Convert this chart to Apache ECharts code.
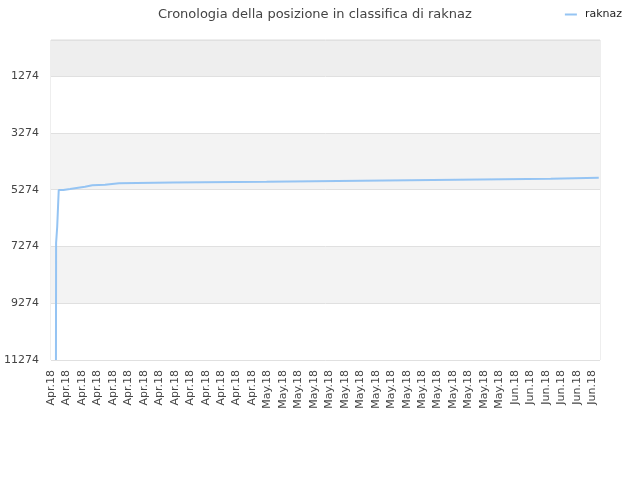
<!DOCTYPE html>
<html>
<head>
<meta charset="utf-8">
<script src="https://cdn.jsdelivr.net/npm/echarts@6/dist/echarts.min.js"></script>
<style>html,body{margin:0;padding:0;background:#fff}#c{width:640px;height:480px}</style>
</head>
<body>
<div id="c"></div>
<script>
var titleText = 'Cronologia della posizione in classifica di raknaz';
var seriesName = 'raknaz';
var xLabels = [
  'Apr.18','Apr.18','Apr.18','Apr.18','Apr.18','Apr.18','Apr.18','Apr.18','Apr.18','Apr.18','Apr.18','Apr.18','Apr.18','Apr.18',
  'May.18','May.18','May.18','May.18','May.18','May.18','May.18','May.18','May.18','May.18','May.18','May.18','May.18','May.18','May.18','May.18',
  'Jun.18','Jun.18','Jun.18','Jun.18','Jun.18','Jun.18'
];
var yTicks = [1274, 3274, 5274, 7274, 9274, 11274];
// x position (in label-step units) where the rank changes, rank value
var stepX = [0.32, 0.33, 0.40, 0.50, 0.80, 1.23, 1.76, 2.20, 2.67, 3.49, 4.40, 7.87, 13.94, 20.08, 26.23, 32.32, 35.42];
var rank  = [11274, 7150, 6590, 5285, 5250, 5203, 5168, 5119, 5098, 5049, 5020, 4992, 4957, 4922, 4886, 4851, 4851];

// staircase: keep previous rank until the x where the new rank starts
var data = [];
stepX.forEach(function (x, i) {
  if (i > 0) data.push([x, rank[i - 1]]);
  data.push([x, rank[i]]);
});

var chart = echarts.init(document.getElementById('c'), null, {renderer: 'canvas'});
chart.setOption({
  animation: false,
  backgroundColor: '#fff',
  textStyle: {fontFamily: 'DejaVu Sans'},
  title: {
    text: titleText, left: 153, top: 3,
    textStyle: {fontSize: 13, fontWeight: 'normal', color: '#444', fontFamily: 'DejaVu Sans'}
  },
  legend: {
    data: [seriesName], right: 13, top: 4, itemWidth: 12, itemHeight: 2, itemGap: 8,
    icon: 'rect',
    textStyle: {fontSize: 11, color: '#222', fontFamily: 'DejaVu Sans', padding: [0, 0, 0, 3]}
  },
  grid: {left: 51, right: 40, top: 40, bottom: 120, show: true, borderColor: '#ddd', borderWidth: 1,
         containLabel: false, outerBoundsMode: 'none'},
  xAxis: {
    type: 'value', min: 0, max: 35.5, interval: 1,
    axisLine: {show: false}, axisTick: {show: false}, splitLine: {show: false},
    axisLabel: {
      rotate: 90, margin: 10, fontSize: 11, color: '#444', showMaxLabel: false,
      formatter: function (v) { return xLabels[Math.round(v)] || ''; }
    }
  },
  yAxis: {
    type: 'value', inverse: true, min: 0, max: 11274,
    axisLine: {show: false},
    axisTick: {show: false, customValues: [0].concat(yTicks)},
    axisLabel: {customValues: yTicks, fontSize: 11, color: '#444', margin: 12,
      formatter: function (v) { return String(v); }},
    splitLine: {show: true, lineStyle: {color: '#e0e0e0', width: 1}},
    splitArea: {show: true, areaStyle: {color: ['#eeeeee', '#ffffff', '#f3f3f3', '#ffffff', '#f3f3f3', '#ffffff']}}
  },
  series: [{
    name: seriesName, type: 'line', data: data,
    showSymbol: false, symbol: 'none',
    lineStyle: {color: '#95c4f3', width: 2},
    itemStyle: {color: '#95c4f3'}
  }]
});
</script>
</body>
</html>
